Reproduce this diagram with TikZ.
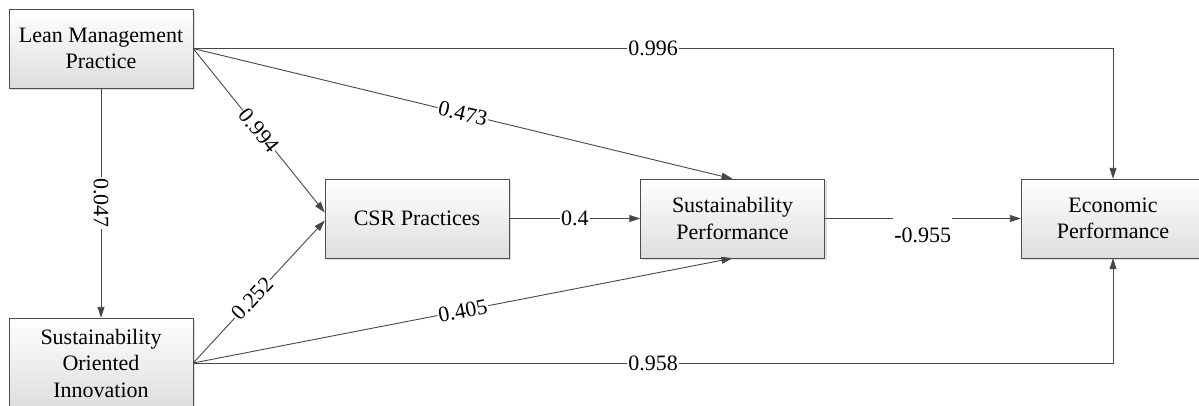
\documentclass[tikz,border=0pt]{standalone}
\usepackage{fontspec}
\setmainfont{LiberationSerif}[Extension=.ttf, UprightFont=*-Regular, BoldFont=*-Bold]
\usetikzlibrary{arrows.meta,shadows}
\begin{document}
\begin{tikzpicture}[x=1pt,y=-1pt,
    factor/.style = {draw=black!70, top color=white, bottom color=black!13,
        minimum width=184pt, minimum height=79pt, align=center,
        font=\fontsize{22}{26.5}\selectfont,
        drop shadow={shadow xshift=2pt, shadow yshift=-2pt, fill=black!25, opacity=0.5}},
    link/.style = {draw=black!72, line width=0.9pt, -{Triangle[length=11pt,width=7pt]}},
    coef/.style = {fill=white, inner sep=1pt, font=\fontsize{22}{26}\selectfont}]
    \useasboundingbox (0,0) rectangle (1199,405);
    \node[factor] (lmp) at (101,48.5) {Lean Management\\Practice};
    \node[factor, minimum height=90pt] (soi) at (101,363) {Sustainability\\Oriented\\Innovation};
    \node[factor] (csr) at (417,218.5) {CSR Practices};
    \node[factor] (sp) at (732.5,218.5) {Sustainability\\Performance};
    \node[factor] (ep) at (1113,218.5) {Economic\\Performance};
    \draw[link] (lmp.east) -| node[coef, pos=0.25] {0.996} (ep.north);
    \draw[link] (lmp.east) -- node[coef, sloped] {0.473} (sp.north);
    \draw[link] (lmp.east) -- node[coef, sloped] {0.994} ([yshift=6pt]csr.west);
    \draw[link] (lmp.south) -- node[coef, rotate=-90] {0.047} (soi.north);
    \draw[link] (soi.east) -- node[coef, sloped, pos=0.45] {0.252} ([yshift=-2pt]csr.west);
    \draw[link] (soi.east) -- node[coef, sloped] {0.405} (sp.south);
    \draw[link] (soi.east) -| node[coef, pos=0.25] {0.958} (ep.south);
    \draw[link] (csr.east) -- node[coef] {0.4} (sp.west);
    \draw[link] (sp.east) -- node[coef, anchor=north, yshift=7pt, text height=30pt] {\textbf{-}0.955} (ep.west);
\end{tikzpicture}
\end{document}
